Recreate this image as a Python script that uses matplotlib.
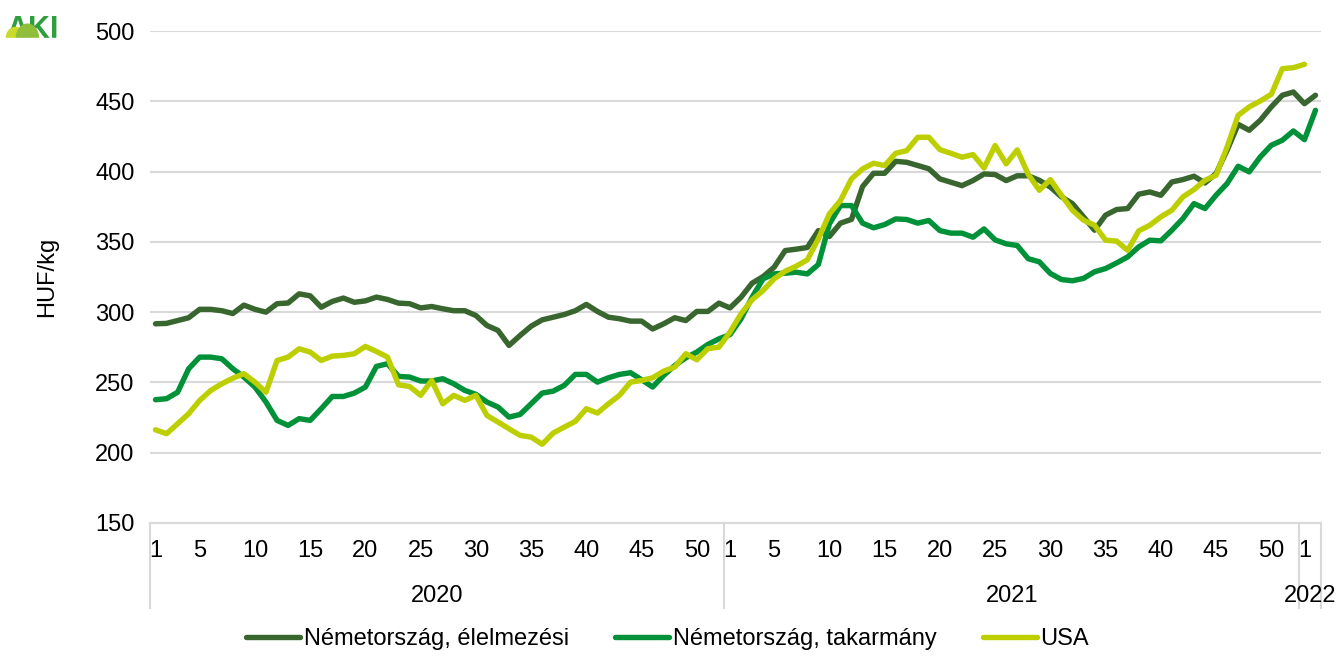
import numpy as np
import matplotlib.pyplot as plt
from matplotlib.patches import Ellipse

plt.rcParams['font.family'] = ['Liberation Sans', 'DejaVu Sans']

# weekly data: 2020 w1-52, 2021 w1-52, 2022 w1-2
years = ['2020', '2021', '2022']
weeks_per_year = [52, 52, 2]
shown_weeks = [1, 5, 10, 15, 20, 25, 30, 35, 40, 45, 50]

elelmezesi = [291.7, 292, 294, 296, 302, 302, 301, 299, 305, 302, 300, 306, 306.5, 313, 311.6, 303.5,
              307.6, 310, 307, 308, 310.7, 309, 306.4, 306, 303, 304, 302.4, 301, 301, 297.6, 290.5, 287,
              276.3, 283.4, 290, 294.5, 296.4, 298.3, 301, 305.5, 300.5, 296.4, 295.3, 293.6, 293.6, 288,
              291.7, 296, 294, 300.5, 300.5, 306.4,
              303, 310.6, 320.6, 325.3, 332, 343.8, 344.8, 346, 358, 353.8, 363.3, 366, 389.3, 398.8,
              398.8, 407.3, 406.6, 404.3, 402, 394.8, 392.4, 390, 393.6, 398.3, 397.9, 393.6, 397, 397,
              393.8, 389, 382, 377.2, 367.8, 358.3, 369, 373, 373.7, 383.9, 385.5, 383.1, 392.6, 394.3,
              396.7, 391.9, 398.6, 415.2, 433.6, 429.4, 436.5, 446, 454.3, 456.6,
              448.3, 454.3]

takarmany = [237.7, 238.4, 243, 259.7, 268, 268, 266.8, 259.7, 253.8, 246.7, 236, 223, 219.4, 224.2, 223,
             231.3, 240, 240, 242.4, 246.7, 261.4, 263.3, 254.3, 253.8, 251, 251, 252.6, 249, 244.3, 241.5,
             236, 232.5, 225.3, 227.2, 234.8, 242.4, 243.8, 247.9, 255.7, 255.7, 250.2, 253.3, 255.7,
             256.9, 251.9, 246.7, 255, 262, 267.5, 271.6, 277, 281,
             284, 295.2, 310.6, 323.7, 327.2, 327.7, 328.4, 327.2, 333.9, 362.8, 375.8, 375.8, 363.3, 360,
             362.3, 366.3, 365.9, 363.3, 365.2, 358, 356.2, 356.2, 353.3, 359.2, 351.4, 348.6, 347.4, 338,
             335.8, 327.5, 323.2, 322.3, 324, 328.7, 331, 335, 339.3, 346.4, 351.2, 350.7, 358.3, 366.6,
             377.2, 373.7, 383.2, 391.5, 403.8, 399.8, 410.4, 418.7, 422.3, 428.9,
             422.7, 443.6]

usa = [216.3, 213.5, 220.6, 227.7, 237.2, 244.3, 249, 253, 256.2, 250.2, 243, 265.6, 268, 273.9, 271.6,
       265.6, 268.7, 269.2, 270.4, 275.6, 272, 268, 248.3, 247.1, 240.8, 251.4, 234.8, 240.8, 237.2, 240.8,
       226.5, 221.8, 217, 212.3, 211.1, 206, 214, 218.2, 222.3, 231.3, 228.2, 234.8, 240.8, 250.2, 251.4,
       253.3, 258, 260.9, 270.4, 266.1, 274, 275.1,
       285.8, 298.8, 308.8, 315.4, 323.7, 329.1, 332.7, 337.2, 352.1, 369.9, 379.4, 394.8, 401.9, 405.9,
       404.3, 413, 414.9, 424.4, 424.4, 415.6, 413, 410.2, 412.1, 402.6, 418.5, 405.5, 415.4, 398, 386.7,
       394.3, 383.2, 372.5, 365.4, 361.8, 351.2, 350.5, 344, 357.8, 361.8, 367.8, 372.5, 382, 387.2,
       393.8, 397.4, 417.5, 440, 446, 450.2, 455, 473.2, 473.9,
       476.3, np.nan]

labels = ['Németország, élelmezési', 'Németország, takarmány', 'USA']
colors = ['#38662e', '#009139', '#bdcf00']

n = sum(weeks_per_year)
x = np.arange(n)
fs = 17

fig = plt.figure(figsize=(13.38, 6.57), dpi=100)
ax = fig.add_axes([0.1121, 0.2040, 0.8752, 0.7488])

for y, lab, c in zip([elelmezesi, takarmany, usa], labels, colors):
    ax.plot(x, y, color=c, lw=3.9, label=lab, solid_joinstyle='round', solid_capstyle='round')

ax.set_xlim(-0.5, n - 0.5)
ax.set_ylim(150, 500)
ax.set_yticks(range(150, 501, 50))
ax.grid(axis='y', color='#d9d9d9', lw=1.5)
ax.set_axisbelow(True)
for s in ['top', 'right', 'left']:
    ax.spines[s].set_visible(False)
ax.spines['bottom'].set_color('#d9d9d9')
ax.spines['bottom'].set_linewidth(1.5)

# category ticks
ticks = []
ticklabels = []
start = 0
for yr, nw in zip(years, weeks_per_year):
    for w in shown_weeks:
        if w <= nw:
            ticks.append(start + w - 1)
            ticklabels.append(str(w))
    start += nw
ax.set_xticks(ticks)
ax.set_xticklabels(ticklabels)
ax.tick_params(axis='x', length=0, pad=12, labelsize=fs)
ax.tick_params(axis='y', length=0, pad=11, labelsize=fs)
ax.set_ylabel('HUF/kg', fontsize=fs, labelpad=27)

# year groups and separators
trans = ax.get_xaxis_transform()
start = 0
for yr, nw in zip(years, weeks_per_year):
    ax.plot([start - 0.5, start - 0.5], [0, -0.172], color='#d9d9d9', lw=1.5,
            transform=trans, clip_on=False)
    ax.text(start - 0.5 + nw / 2, -0.148, yr, ha='center', va='center', fontsize=fs, transform=trans)
    start += nw
ax.plot([n - 0.5, n - 0.5], [0, -0.172], color='#d9d9d9', lw=1.5, transform=trans, clip_on=False)

fig.legend(loc='center', bbox_to_anchor=(0.499, 0.027), ncol=3, frameon=False, fontsize=fs,
           handlelength=2.3, handletextpad=0.15, columnspacing=1.95)

# logo: letters with two small hills in front
fig.text(0.0245, 0.9422, 'AKI', color='#2e9e3e', fontsize=22, fontweight='bold', ha='center',
         va='baseline', zorder=1)
fig.add_artist(Ellipse((0.0115, 0.9422), 0.0135, 0.032, color='#c9da2b', transform=fig.transFigure, zorder=2))
fig.add_artist(Ellipse((0.0205, 0.9422), 0.0165, 0.042, color='#8fbf3a', transform=fig.transFigure, zorder=2))
fig.add_artist(plt.Rectangle((0, 0.90), 0.05, 0.0422, color='white', transform=fig.transFigure, zorder=3))

plt.savefig('out.png', dpi=100)
